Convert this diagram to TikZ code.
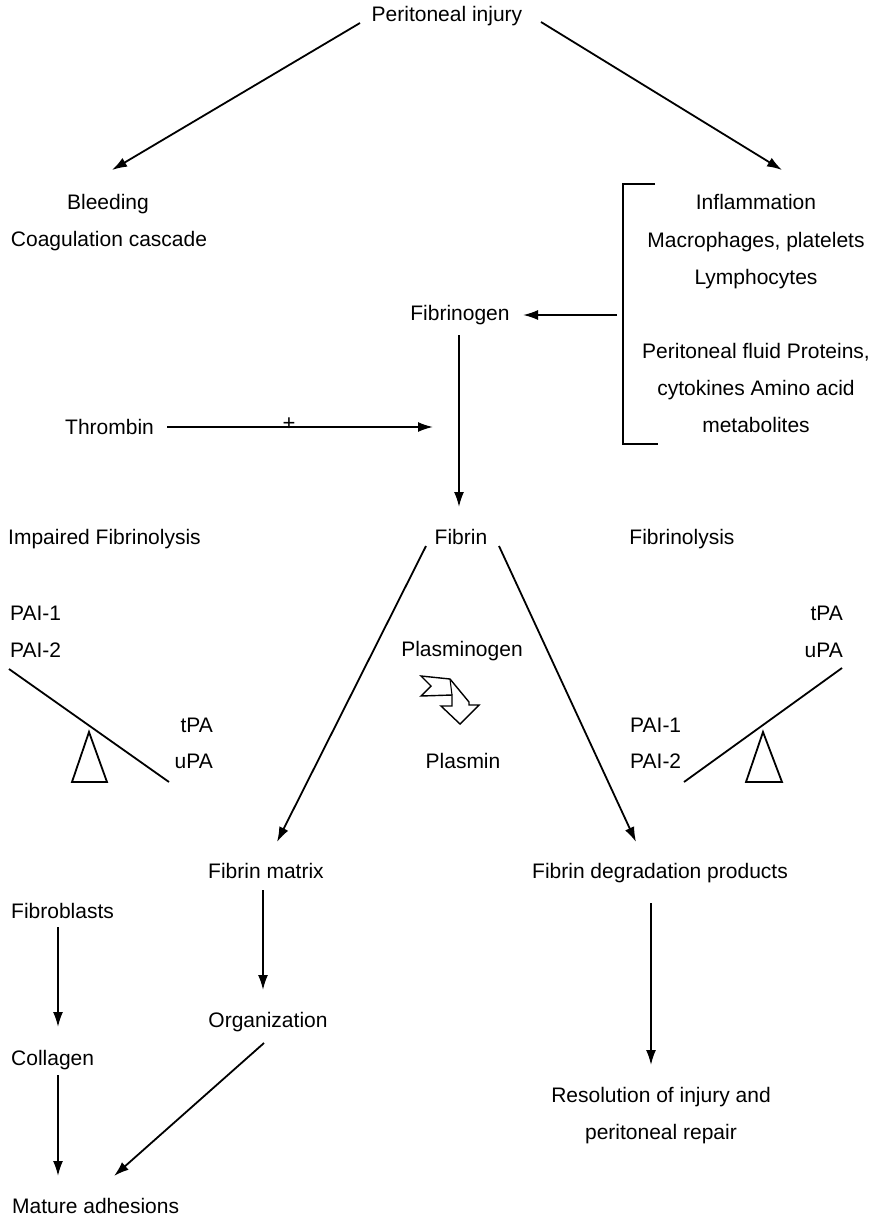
\documentclass[tikz,border=0pt]{standalone}
\usepackage{fontspec}
\setmainfont{Liberation Sans}
\usetikzlibrary{arrows.meta}
\begin{document}
\begin{tikzpicture}[x=1pt,y=-1pt,
  lbl/.style={inner sep=0pt, anchor=base, font=\fontsize{21}{25}\selectfont},
  lblL/.style={lbl, anchor=base west},
  lblR/.style={lbl, anchor=base east},
  conn/.style={line width=1.8pt, -{Latex[length=15pt,width=10pt]}},
  bar/.style={line width=1.8pt},
  thinbar/.style={line width=1.1pt},
  fulcrum/.style={line width=1.8pt, line join=miter},
  procarrow/.style={line width=1.4pt, line join=miter}]
\useasboundingbox (0,0) rectangle (870,1219);

% top
\node[lbl] (inj) at (447,21) {Peritoneal injury};
\node[lbl] (bleed) at (108,209) {Bleeding};
\node[lbl] (coag) at (109,246) {Coagulation cascade};
\node[lbl] (infl) at (756,209) {Inflammation};
\node[lbl] (macro) at (756,247) {Macrophages, platelets};
\node[lbl] (lymph) at (756,284) {Lymphocytes};
\node[lbl] (pf) at (756,358) {Peritoneal fluid Proteins,};
\node[lbl] (cyto) at (756,395) {cytokines Amino acid};
\node[lbl] (meta) at (756,432) {metabolites};

\coordinate (injL) at (360,23);
\coordinate (bleedT) at (112,170);
\coordinate (injR) at (541,22);
\coordinate (inflT) at (782,170);
\draw[conn] (injL) -- (bleedT);
\draw[conn] (injR) -- (inflT);

% bracket
\coordinate (brT) at (655,184);
\coordinate (brTL) at (623,184);
\coordinate (brBL) at (623,444);
\coordinate (brB) at (658,444);
\draw[thinbar] (brT) -- (brTL) -- (brBL) -- (brB);

\node[lbl] (fgen) at (460,320) {Fibrinogen};
\coordinate (brM) at (617,315);
\coordinate (fgenR) at (523,315);
\draw[conn] (brM) -- (fgenR);

\node[lblL] (thr) at (65,434) {Thrombin};
\coordinate (thrR) at (167,427);
\coordinate (thrTip) at (433,427);
\draw[conn] (thrR) -- (thrTip);
\node[inner sep=0pt, anchor=base, font=\fontsize{22}{22}\selectfont] (plus) at (289,430) {+};

\node[lbl] (fib) at (461,544) {Fibrin};
\coordinate (fgenB) at (459,335);
\coordinate (fibT) at (459,507);
\draw[conn] (fgenB) -- (fibT);

\node[lblL] (impf) at (8,544) {Impaired Fibrinolysis};
\node[lbl] (fibl) at (682,544) {Fibrinolysis};

% middle
\node[lbl] (plgn) at (462,656) {Plasminogen};
\node[lbl] (plsm) at (463,768) {Plasmin};
\draw[procarrow] (421,676) -- (450,679) -- (469,702) -- (469,705) -- (479,705)
  -- (460,724) -- (441,706) -- (452,706) -- (452,695) -- (421,696) -- (431,686) -- cycle;
\draw[line width=1.1pt] (450,679) -- (452,695);

% left seesaw
\node[lblL] (lpai1) at (10,620) {PAI-1};
\node[lblL] (lpai2) at (10,657) {PAI-2};
\node[lblR] (ltpa) at (213,732) {tPA};
\node[lblR] (lupa) at (213,768) {uPA};
\coordinate (lsA) at (9,669);
\coordinate (lsB) at (169,782);
\draw[bar] (lsA) -- (lsB);
\draw[fulcrum] (89,732) -- (107,782) -- (72,782) -- cycle;

% right seesaw
\node[lblR] (rtpa) at (843,620) {tPA};
\node[lblR] (rupa) at (843,657) {uPA};
\node[lblL] (rpai1) at (630,732) {PAI-1};
\node[lblL] (rpai2) at (630,768) {PAI-2};
\coordinate (rsA) at (684,782);
\coordinate (rsB) at (842,668);
\draw[bar] (rsA) -- (rsB);
\draw[fulcrum] (763,732) -- (782,782) -- (746,782) -- cycle;

% fibrin branches
\coordinate (fibL) at (426,546);
\coordinate (fibR) at (499,546);
\coordinate (fmT) at (277,842);
\coordinate (fdpT) at (636,842);
\draw[conn] (fibL) -- (fmT);
\draw[conn] (fibR) -- (fdpT);

% bottom
\node[lbl] (fm) at (266,878) {Fibrin matrix};
\node[lbl] (fdp) at (660,878) {Fibrin degradation products};
\node[lblL] (fbl) at (11,918) {Fibroblasts};
\node[lblL] (col) at (11,1065) {Collagen};
\node[lblL] (mat) at (12,1213) {Mature adhesions};
\node[lbl] (org) at (268,1027) {Organization};
\node[lbl] (res1) at (661,1102) {Resolution of injury and};
\node[lbl] (res2) at (661,1139) {peritoneal repair};

\coordinate (fblB) at (58,927);
\coordinate (colT) at (58,1027);
\draw[conn] (fblB) -- (colT);
\coordinate (colB) at (58,1075);
\coordinate (matT) at (58,1176);
\draw[conn] (colB) -- (matT);
\coordinate (fmB) at (263,890);
\coordinate (orgT) at (263,990);
\draw[conn] (fmB) -- (orgT);
\coordinate (orgB) at (264,1043);
\coordinate (matR) at (114,1176);
\draw[conn] (orgB) -- (matR);
\coordinate (fdpB) at (651,903);
\coordinate (resT) at (651,1065);
\draw[conn] (fdpB) -- (resT);
\end{tikzpicture}
\end{document}
